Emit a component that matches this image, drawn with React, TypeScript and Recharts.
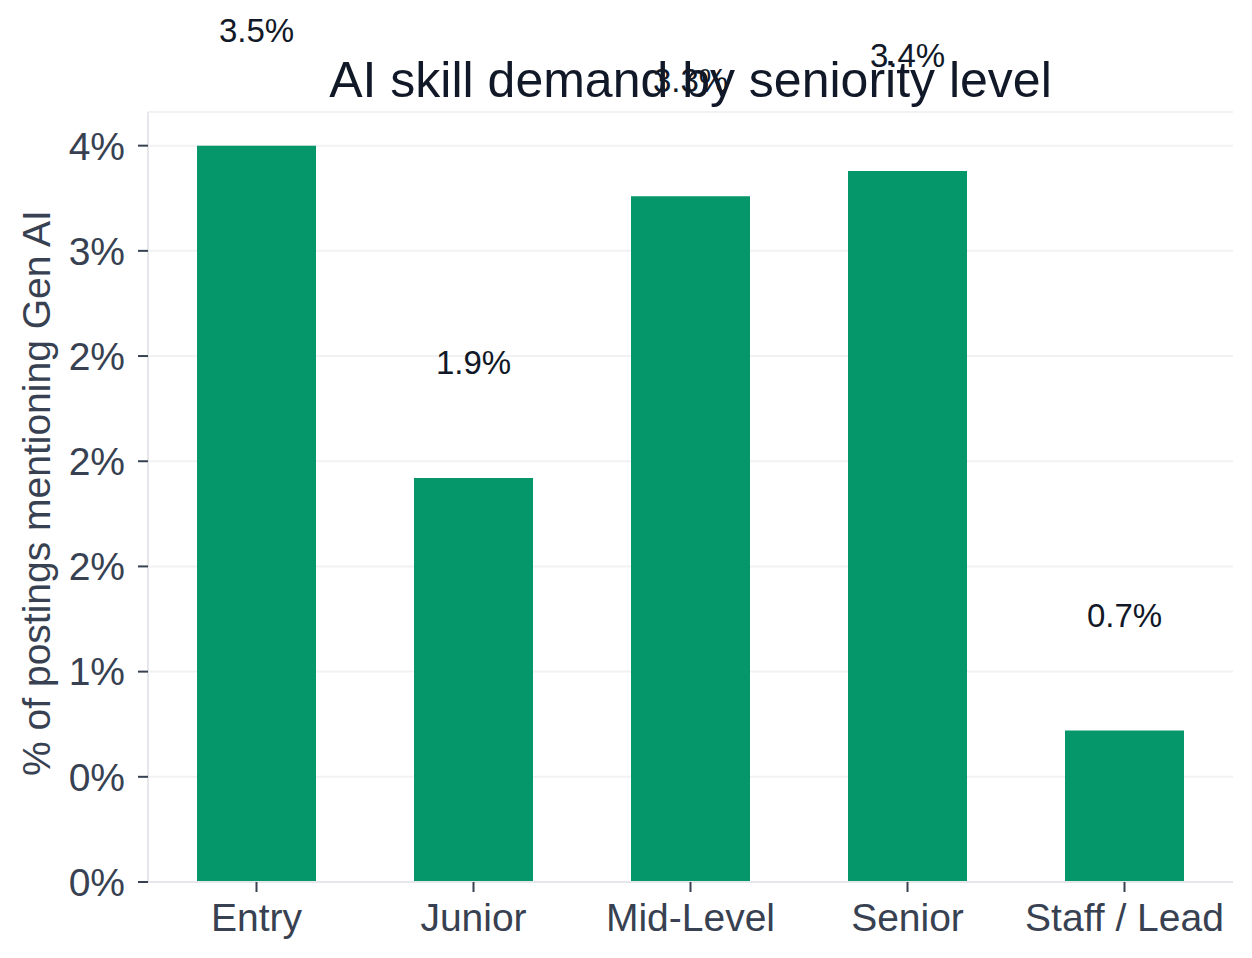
import React from 'react';
import { BarChart, Bar, XAxis, YAxis, CartesianGrid, LabelList } from 'recharts';

const levels = ['Entry', 'Junior', 'Mid-Level', 'Senior', 'Staff / Lead'];
const genAiShare = [3.5, 1.92, 3.26, 3.38, 0.72];
const yTicks = [0, 0.5, 1, 1.5, 2, 2.5, 3, 3.5];

const data = levels.map((level, i) => ({ level, share: genAiShare[i] }));

const FONT = '"Liberation Sans", Arial, Helvetica, sans-serif';
const TEXT_DARK = '#111827';
const TEXT_AXIS = '#374151';
const SPINE = '#e5e7eb';
const GRID = '#f1f2f4';
const BAR = '#059669';

// python-style "%.0f" rounding (half to even)
const roundHalfEven = (v: number) => {
  const f = Math.floor(v);
  if (Math.abs(v - f - 0.5) < 1e-9) return f % 2 === 0 ? f : f + 1;
  return Math.round(v);
};

const ValueLabel = (props: any) => {
  const { x, y, width, value } = props;
  return (
    <text
      x={x + width / 2}
      y={y - 104}
      textAnchor="middle"
      fill={TEXT_DARK}
      fontSize={33}
      fontFamily={FONT}
    >
      {`${Number(value).toFixed(1)}%`}
    </text>
  );
};

const YTitle = (props: any) => {
  const vb = props.viewBox || { x: 0, y: 112, height: 770 };
  const cx = vb.x + 50;
  const cy = vb.y + vb.height / 2 - 4;
  return (
    <text
      x={cx}
      y={cy}
      transform={`rotate(-90, ${cx}, ${cy})`}
      textAnchor="middle"
      fill={TEXT_AXIS}
      fontSize={39}
      fontFamily={FONT}
    >
      % of postings mentioning Gen AI
    </text>
  );
};

export default function App() {
  return (
    <div style={{ position: 'absolute', left: 0, top: 0, width: 1252, height: 958, background: '#fff' }}>
      <BarChart
        width={1252}
        height={958}
        data={data}
        margin={{ top: 112, right: 19, bottom: 0, left: 0 }}
      >
        <CartesianGrid vertical={false} stroke={GRID} strokeWidth={2} />
        <XAxis
          dataKey="level"
          height={76}
          axisLine={{ stroke: SPINE, strokeWidth: 2 }}
          tickLine={{ stroke: TEXT_AXIS, strokeWidth: 2 }}
          tickSize={10}
          tickMargin={11}
          interval={0}
          tick={{ fill: TEXT_AXIS, fontSize: 39, fontFamily: FONT }}
        />
        <YAxis
          width={148}
          domain={[0, 3.66]}
          ticks={yTicks}
          allowDataOverflow
          axisLine={{ stroke: SPINE, strokeWidth: 2 }}
          tickLine={{ stroke: TEXT_AXIS, strokeWidth: 2 }}
          tickSize={10}
          tickMargin={13}
          tickFormatter={(v: number) => `${roundHalfEven(v)}%`}
          tick={{ fill: TEXT_AXIS, fontSize: 39, fontFamily: FONT }}
          label={{ content: YTitle }}
        />
        <Bar dataKey="share" fill={BAR} barSize={119} isAnimationActive={false}>
          <LabelList dataKey="share" content={ValueLabel} />
        </Bar>
      </BarChart>
      <svg
        width={1252}
        height={958}
        style={{ position: 'absolute', left: 0, top: 0, pointerEvents: 'none' }}
      >
        <text x={690.5} y={97} textAnchor="middle" fill={TEXT_DARK} fontSize={50} fontFamily={FONT}>
          AI skill demand by seniority level
        </text>
      </svg>
    </div>
  );
}
